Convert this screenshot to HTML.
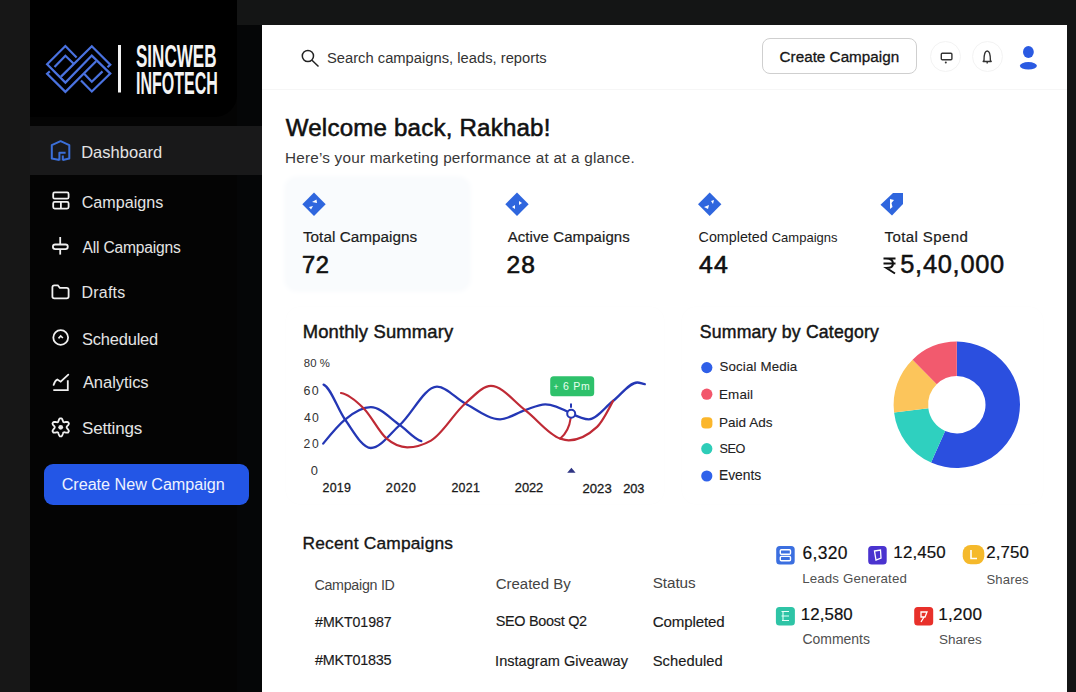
<!DOCTYPE html>
<html><head><meta charset="utf-8">
<style>
*{margin:0;padding:0;box-sizing:border-box}
html,body{width:1076px;height:692px;overflow:hidden;background:#141515;font-family:"Liberation Sans",sans-serif}
.a{position:absolute;white-space:nowrap;line-height:1;font-family:"Liberation Sans",sans-serif}
.b{position:absolute}
svg{position:absolute;left:0;top:0;overflow:visible}
</style></head><body>
<!-- backgrounds -->
<div class="b" style="left:0;top:0;width:30px;height:692px;background:#171717"></div>
<div class="b" style="left:30px;top:0;width:232px;height:692px;background:#040404"></div>
<div class="b" style="left:237px;top:0;width:839px;height:25px;background:#141515"></div>
<div class="b" style="left:237px;top:25px;width:25px;height:667px;background:#050607"></div>
<div class="b" style="left:30px;top:0;width:207px;height:117px;background:#000;border-radius:0 0 22px 0"></div>
<div class="b" style="left:30px;top:126px;width:232px;height:49px;background:#19191a"></div>
<div class="b" style="left:262px;top:25px;width:805px;height:667px;background:#fff"></div>
<div class="b" style="left:1067px;top:0;width:9px;height:692px;background:#141515"></div>

<!-- header -->
<div class="b" style="left:262px;top:89px;width:805px;height:1px;background:#f6f6f6"></div>
<div class="b" style="left:762px;top:38px;width:155px;height:36px;border:1px solid #cfcfcf;border-radius:8px"></div>
<div class="b" style="left:930px;top:40.5px;width:31px;height:31px;border:1px solid #f3f3f3;border-radius:50%"></div>
<div class="b" style="left:972px;top:40.5px;width:31px;height:31px;border:1px solid #f3f3f3;border-radius:50%"></div>

<!-- stat card 1 bg -->
<div class="b" style="left:287px;top:179px;width:181px;height:110px;background:#f9fbfd;border-radius:10px;box-shadow:0 0 5px 3px #f9fbfd"></div>

<!-- chart cards -->
<div class="b" style="left:285.5px;top:307px;width:378px;height:197px;border-radius:14px;box-shadow:0 0 1.5px rgba(0,0,0,0.025)"></div>
<div class="b" style="left:682px;top:307px;width:361px;height:197px;border-radius:14px;box-shadow:0 0 1.5px rgba(0,0,0,0.025)"></div>

<!-- sidebar button -->
<div class="b" style="left:44px;top:463.5px;width:205px;height:41.5px;background:#2356e6;border-radius:9px"></div>

<svg width="1076" height="692" viewBox="0 0 1076 692">
  <!-- logo -->
  <g fill="none" stroke="#4a72e0" stroke-width="2.2">
    <polyline points="76.6,57.4 65.4,46 47.1,64.2 65.4,82.6 91.8,55.6 110.3,73.6 91.8,91.5 81,80.4"/>
    <polyline points="54.5,67 65.4,55.8 73.7,63.8"/>
    <polyline points="61,76.6 91.8,46.2 110.3,64.6 107.5,67.2"/>
    <polyline points="49.8,71.4 47.1,73.8 65.4,91.9 96.1,61.3"/>
    <polyline points="83.9,73.5 91.8,81.8 102.5,71.4"/>
  </g>
  <rect x="118" y="45" width="3" height="47.5" fill="#f2f2f2"/>

  <!-- nav icons -->
  <g fill="none" stroke="#3b6fd9" stroke-width="2" stroke-linejoin="round">
    <path d="M59.4,160 L51.8,158.5 V145.2 L60.6,141.2 L69.3,145.2 V158.5 L62.8,160 M59.4,160.5 V152.8 H65.6 M62.8,160.5 V155.5"/>
  </g>
  <g fill="none" stroke="#f0f0f0" stroke-width="1.8">
    <rect x="53.2" y="192.4" width="15.4" height="6.3" rx="1.5"/>
    <rect x="53.2" y="201.9" width="15.4" height="6.7" rx="1.5"/>
    <line x1="60.9" y1="201.9" x2="60.9" y2="208.6"/>
    <line x1="60.2" y1="237" x2="60.2" y2="244.5"/>
    <line x1="60.2" y1="249.2" x2="60.2" y2="254.6"/>
    <rect x="52.9" y="244.5" width="14.9" height="4.7" rx="2.35"/>
    <path d="M52.4,296.5 V287.3 Q52.4,285.3 54.4,285.3 H57.8 L59.8,287.8 H66.6 Q68.6,287.8 68.6,289.8 V296.5 Q68.6,298.3 66.6,298.3 H54.4 Q52.4,298.3 52.4,296.5 Z"/>
    <circle cx="60.7" cy="337.5" r="7.4"/>
    <path d="M58.5,338.4 L60.7,335.9 L62.9,338" stroke-width="1.6"/>
    <path d="M53.3,390.1 H67.8 V380.3"/>
    <path d="M53.6,384.9 Q55,380.5 57.3,379.5 L60.7,381.7 L68.3,374.6" stroke-linecap="round"/>
    <path d="M60.7,418.3 L61.5,418.3 L62.2,419.1 L62.6,420.1 L63.0,421.1 L63.2,421.9 L63.7,422.1 L64.1,422.4 L65.0,422.2 L66.0,422.0 L67.1,421.9 L68.1,422.1 L68.5,422.8 L68.9,423.5 L68.6,424.4 L67.9,425.4 L67.2,426.1 L66.7,426.8 L66.7,427.3 L66.7,427.8 L67.2,428.5 L67.9,429.2 L68.6,430.2 L68.9,431.1 L68.5,431.8 L68.1,432.5 L67.1,432.7 L66.0,432.6 L65.0,432.4 L64.1,432.2 L63.7,432.5 L63.2,432.7 L63.0,433.5 L62.6,434.5 L62.2,435.5 L61.5,436.3 L60.7,436.3 L59.9,436.3 L59.2,435.5 L58.8,434.5 L58.4,433.5 L58.2,432.7 L57.7,432.5 L57.3,432.2 L56.4,432.4 L55.4,432.6 L54.3,432.7 L53.3,432.5 L52.9,431.8 L52.5,431.1 L52.8,430.2 L53.5,429.2 L54.2,428.5 L54.7,427.8 L54.7,427.3 L54.7,426.8 L54.2,426.1 L53.5,425.4 L52.8,424.4 L52.5,423.5 L52.9,422.8 L53.3,422.1 L54.3,421.9 L55.4,422.0 L56.4,422.2 L57.3,422.4 L57.7,422.1 L58.2,421.9 L58.4,421.1 L58.8,420.1 L59.2,419.1 L59.9,418.3 Z" stroke-linejoin="round"/>
  </g>
  <circle cx="60.7" cy="427.3" r="2.4" fill="#e8e8e8"/>

  <!-- header icons -->
  <g fill="none" stroke="#222" stroke-width="1.5">
    <circle cx="307.9" cy="56" r="5.6"/>
    <line x1="312" y1="60.2" x2="318.5" y2="66.5"/>
  </g>
  <g fill="none" stroke="#333" stroke-width="1.4">
    <rect x="941.3" y="53.2" width="10.6" height="6.6" rx="1"/>
    <path d="M984,60.5 Q984,51 987.2,51 Q990.4,51 990.4,60.5 L991.2,61.5 H983.2 Z" stroke-linejoin="round"/>
    <line x1="987.2" y1="61.5" x2="987.2" y2="63.5"/>
  </g>
  <circle cx="945.8" cy="62.6" r="1" fill="#333"/>
  <ellipse cx="1028.4" cy="52" rx="5.4" ry="6.1" fill="#2a5ae2"/>
  <ellipse cx="1028.4" cy="65.8" rx="8.5" ry="3.7" fill="#2a5ae2"/>

  <!-- stat icons -->
  <g fill="#2f66de">
    <rect x="305.8" y="196" width="16.5" height="16.5" transform="rotate(45 314 204.2)"/>
    <rect x="508.8" y="196" width="16.5" height="16.5" transform="rotate(45 517 204.2)"/>
    <rect x="701.5" y="196" width="16.5" height="16.5" transform="rotate(45 709.7 204.2)"/>
    <path d="M880.5,204.7 L893,193 L903,193 L903,204 L892,215.5 Z"/>
  </g>
  <g fill="#fff">
    <path d="M312,202 L316.5,199.5 L317,203 Z"/><path d="M309,207 L313,206 L311,209.5 Z"/>
    <path d="M519,201 L522,203 L519,205 Z"/><path d="M512,207 L515,205 L515,209 Z"/>
    <path d="M711,201 L714,200 L713,204 Z"/><path d="M704,207 L709,205 L708,209 Z"/>
    <path d="M890,199 L894,200 L891.5,203 L892.5,207 L890,209 Z"/>
  </g>
  <!-- rupee -->
  <g fill="none" stroke="#111" stroke-width="2">
    <path d="M883.5,258.5 H895.5 M883.5,263.5 H895.5 M886,258.5 Q893,258.5 893,263.5 Q893,268 886.5,268 L895,273.5"/>
  </g>

  <!-- chart -->
  <g stroke-linecap="round" fill="none">
  <path d="M323.6,384.6 C330.6,387.4 337.7,409.2 344.7,419.0 C353.4,431.2 362.1,448.0 370.8,448.0 C380.5,448.0 390.1,433.7 399.8,425.0 C412.2,413.9 424.6,386.7 437.0,386.7 C446.4,386.7 455.8,398.5 465.2,403.5 C476.8,409.7 488.5,419.3 500.1,419.3 C508.5,419.3 516.8,412.8 525.2,410.1 C531.9,407.9 538.6,404.3 545.3,404.3 C553.9,404.3 562.6,408.9 571.2,413.5" stroke="#2437b5" stroke-width="2.3" fill="none"/><path d="M571.2,413.5 C577.1,416.4 582.9,419.3 588.8,419.3 C596.9,419.3 604.9,407.1 613.0,401.0 C621.1,394.9 629.2,382.5 637.3,382.5 C639.8,382.5 642.3,383.8 644.8,384.2" stroke="#2437b5" stroke-width="2.3" fill="none"/><path d="M323.2,443.6 C330.4,434.7 337.5,425.7 344.7,419.8 C353.4,412.6 362.1,407.2 370.8,407.2 C380.5,407.2 390.1,418.3 399.8,425.0 C407.0,430.0 414.1,439.3 421.3,441.1" stroke="#2437b5" stroke-width="2.3" fill="none"/><path d="M341.0,393.0 C348.7,394.1 356.3,401.0 364.0,408.7 C371.5,416.2 378.9,432.0 386.4,438.4 C393.3,444.3 400.3,447.3 407.2,447.3 C415.1,447.3 423.1,445.1 431.0,440.6 C442.4,434.2 453.8,413.3 465.2,403.5 C473.8,396.2 482.3,385.9 490.9,385.9 C502.3,385.9 513.8,401.4 525.2,410.1 C536.9,419.0 548.6,434.9 560.3,438.6 C563.1,439.5 565.9,440.3 568.7,440.3 C578.2,440.3 587.6,435.8 597.1,426.9 C602.4,421.9 607.7,411.4 613.0,401.0" stroke="#bf2a35" stroke-width="2.2" fill="none"/><path d="M560.3,438.6 Q569,431 570.6,418.5" stroke="#bf2a35" stroke-width="2" fill="none"/>
  </g>
  <line x1="571" y1="403.5" x2="571" y2="407.8" stroke="#2437b5" stroke-width="2"/>
  <circle cx="571.2" cy="413.7" r="4" fill="#fff" stroke="#2437b5" stroke-width="2"/>
  <rect x="550.2" y="376.2" width="44" height="20" rx="3.5" fill="#2ec16b"/>
    <path d="M571.4,467.8 L575.6,472.8 L567.2,472.8 Z" fill="#2f3583"/>

  <!-- donut -->
  <path d="M956.80,341.60 A63.2,63.2 0 1 1 931.09,462.54 L945.13,431.02 A28.7,28.7 0 1 0 956.80,376.10 Z" fill="#2b4fdf"/><path d="M931.09,462.54 A63.2,63.2 0 0 1 894.07,412.50 L928.31,408.30 A28.7,28.7 0 0 0 945.13,431.02 Z" fill="#2fd0bf"/><path d="M894.07,412.50 A63.2,63.2 0 0 1 912.58,359.65 L936.72,384.29 A28.7,28.7 0 0 0 928.31,408.30 Z" fill="#fcc55b"/><path d="M912.58,359.65 A63.2,63.2 0 0 1 956.80,341.60 L956.80,376.10 A28.7,28.7 0 0 0 936.72,384.29 Z" fill="#f25a6e"/>
  <!-- legend dots -->
  <circle cx="706.8" cy="367.6" r="5.6" fill="#2f5fe8"/>
  <circle cx="706.8" cy="394.2" r="5.6" fill="#f2566b"/>
  <rect x="701.2" y="417.2" width="11.2" height="11.4" rx="4" fill="#fbb62b"/>
  <circle cx="706.8" cy="448.7" r="5.6" fill="#2ecdb8"/>
  <circle cx="706.8" cy="476" r="5.6" fill="#2f62ea"/>

  <!-- small stat icons -->
  <rect x="776.2" y="546" width="18.5" height="18.6" rx="3.5" fill="#3b6fe0"/>
  <g fill="none" stroke="#fff" stroke-width="1.4">
    <rect x="780.3" y="549.8" width="10.2" height="4.4" rx="1"/>
    <rect x="780.3" y="556.4" width="10.2" height="4.4" rx="1"/>
  </g>
  <rect x="868.2" y="546" width="18.5" height="18.6" rx="3.5" fill="#4a33cf"/>
  <path d="M874.5,551 L880.5,550 L881,558 L876,560 Z" fill="none" stroke="#fff" stroke-width="1.3"/>
  <rect x="962.7" y="545" width="21.6" height="19.3" rx="8" fill="#f5b92b"/>
  <path d="M971,550 V558.5 H977" fill="none" stroke="#fff" stroke-width="1.6"/>
  <rect x="775.9" y="607" width="19" height="18.6" rx="3.5" fill="#2ec4a6"/>
  <path d="M781.5,611.5 H789 M781.5,616 H789 M782,620.5 H789 M783,611 V621" fill="none" stroke="#e6fff8" stroke-width="1.1"/>
  <rect x="914.2" y="607" width="19" height="18.6" rx="3.5" fill="#e8302a"/>
  <path d="M921,612 H927 L925,617 H921 Z M924,617 L921,622" fill="none" stroke="#fff" stroke-width="1.3"/>
</svg>

<div class="a" style="left:81.18px;top:143.69px;font-size:16.48px;letter-spacing:0.046px;color:#e4e4e4;">Dashboard</div>
<div class="a" style="left:81.69px;top:193.80px;font-size:16.11px;letter-spacing:0.023px;color:#e4e4e4;">Campaigns</div>
<div class="a" style="left:82.50px;top:239.74px;font-size:15.60px;letter-spacing:-0.193px;color:#e4e4e4;">All Campaigns</div>
<div class="a" style="left:81.62px;top:285.05px;font-size:15.94px;letter-spacing:0.220px;color:#e4e4e4;">Drafts</div>
<div class="a" style="left:82.08px;top:331.01px;font-size:16.45px;letter-spacing:-0.199px;color:#e4e4e4;">Scheduled</div>
<div class="a" style="left:82.90px;top:374.92px;font-size:16.56px;letter-spacing:-0.061px;color:#e4e4e4;">Analytics</div>
<div class="a" style="left:82.05px;top:419.95px;font-size:17.00px;letter-spacing:-0.175px;color:#e4e4e4;">Settings</div>
<div class="a" style="left:61.69px;top:475.65px;font-size:16.18px;letter-spacing:-0.029px;color:#eef2ff;">Create New Campaign</div>
<div class="a" style="left:326.96px;top:50.69px;font-size:14.72px;letter-spacing:0.013px;color:#333333;">Search campaigns, leads, reports</div>
<div class="a" style="left:779.54px;top:48.64px;font-size:15.25px;letter-spacing:0.010px;color:#161616;-webkit-text-stroke:0.3px currentColor;">Create Campaign</div>
<div class="a" style="left:285.76px;top:116.31px;font-size:24.11px;letter-spacing:0.189px;color:#111111;-webkit-text-stroke:0.55px currentColor;">Welcome back, Rakhab!</div>
<div class="a" style="left:284.98px;top:149.79px;font-size:15.30px;letter-spacing:0.208px;color:#383838;">Here’s your marketing performance at at a glance.</div>
<div class="a" style="left:302.89px;top:228.91px;font-size:15.28px;letter-spacing:0.047px;color:#1c1c1c;-webkit-text-stroke:0.2px currentColor;">Total Campaigns</div>
<div class="a" style="left:507.70px;top:228.95px;font-size:15.00px;letter-spacing:0.078px;color:#1c1c1c;-webkit-text-stroke:0.2px currentColor;">Active Campaigns</div>
<div class="a" style="left:884.60px;top:228.93px;font-size:15.02px;letter-spacing:0.385px;color:#1c1c1c;-webkit-text-stroke:0.2px currentColor;">Total Spend</div>
<div class="a" style="left:302.02px;top:253.88px;font-size:23.67px;letter-spacing:0.529px;color:#111111;-webkit-text-stroke:0.65px currentColor;">72</div>
<div class="a" style="left:506.47px;top:253.46px;font-size:24.51px;letter-spacing:1.241px;color:#111111;-webkit-text-stroke:0.65px currentColor;">28</div>
<div class="a" style="left:699.00px;top:253.21px;font-size:24.81px;letter-spacing:1.248px;color:#111111;-webkit-text-stroke:0.65px currentColor;">44</div>
<div class="a" style="left:900.28px;top:252.16px;font-size:25.45px;letter-spacing:0.711px;color:#111111;-webkit-text-stroke:0.5px currentColor;">5,40,000</div>
<div class="a" style="left:302.73px;top:323.34px;font-size:18.42px;letter-spacing:0.149px;color:#151515;-webkit-text-stroke:0.45px currentColor;">Monthly Summary</div>
<div class="a" style="left:303.75px;top:358.13px;font-size:11.37px;letter-spacing:0.064px;color:#333333;">80 %</div>
<div class="a" style="left:303.58px;top:384.62px;font-size:12.45px;letter-spacing:1.323px;color:#333333;">60</div>
<div class="a" style="left:303.95px;top:411.88px;font-size:12.25px;letter-spacing:1.156px;color:#333333;">40</div>
<div class="a" style="left:303.59px;top:438.36px;font-size:12.17px;letter-spacing:1.611px;color:#333333;">20</div>
<div class="a" style="left:310.68px;top:465.22px;font-size:12.91px;letter-spacing:0.831px;color:#333333;">0</div>
<div class="a" style="left:322.48px;top:482.45px;font-size:12.42px;letter-spacing:0.293px;color:#1a1a1a;-webkit-text-stroke:0.3px currentColor;">2019</div>
<div class="a" style="left:385.66px;top:482.09px;font-size:12.84px;letter-spacing:0.593px;color:#1a1a1a;-webkit-text-stroke:0.3px currentColor;">2020</div>
<div class="a" style="left:451.38px;top:482.46px;font-size:12.40px;letter-spacing:0.280px;color:#1a1a1a;-webkit-text-stroke:0.3px currentColor;">2021</div>
<div class="a" style="left:514.86px;top:482.48px;font-size:12.85px;letter-spacing:-0.105px;color:#1a1a1a;-webkit-text-stroke:0.3px currentColor;">2022</div>
<div class="a" style="left:582.45px;top:482.28px;font-size:13.08px;letter-spacing:0.057px;color:#1a1a1a;-webkit-text-stroke:0.3px currentColor;">2023</div>
<div class="a" style="left:623.36px;top:482.51px;font-size:12.81px;letter-spacing:-0.145px;color:#1a1a1a;-webkit-text-stroke:0.3px currentColor;">203</div>
<div class="a" style="left:699.82px;top:323.99px;font-size:17.66px;letter-spacing:0.190px;color:#151515;-webkit-text-stroke:0.45px currentColor;">Summary by Category</div>
<div class="a" style="left:719.44px;top:360.40px;font-size:13.30px;letter-spacing:0.154px;color:#222222;-webkit-text-stroke:0.1px currentColor;">Social Media</div>
<div class="a" style="left:719.03px;top:387.51px;font-size:13.41px;letter-spacing:0.133px;color:#222222;-webkit-text-stroke:0.1px currentColor;">Email</div>
<div class="a" style="left:719.02px;top:415.72px;font-size:13.50px;letter-spacing:0.018px;color:#222222;-webkit-text-stroke:0.1px currentColor;">Paid Ads</div>
<div class="a" style="left:719.47px;top:442.84px;font-size:12.65px;letter-spacing:-0.454px;color:#222222;-webkit-text-stroke:0.1px currentColor;">SEO</div>
<div class="a" style="left:718.99px;top:469.05px;font-size:13.83px;letter-spacing:-0.022px;color:#222222;-webkit-text-stroke:0.1px currentColor;">Events</div>
<div class="a" style="left:302.51px;top:535.33px;font-size:17.38px;letter-spacing:0.192px;color:#151515;-webkit-text-stroke:0.35px currentColor;">Recent Campaigns</div>
<div class="a" style="left:314.39px;top:577.88px;font-size:14.25px;letter-spacing:-0.267px;color:#444444;">Campaign ID</div>
<div class="a" style="left:495.65px;top:576.26px;font-size:14.99px;letter-spacing:0.015px;color:#444444;">Created By</div>
<div class="a" style="left:652.74px;top:575.32px;font-size:15.27px;letter-spacing:-0.070px;color:#444444;">Status</div>
<div class="a" style="left:315.10px;top:614.86px;font-size:14.16px;letter-spacing:-0.078px;color:#1a1a1a;-webkit-text-stroke:0.15px currentColor;">#MKT01987</div>
<div class="a" style="left:495.68px;top:614.24px;font-size:14.43px;letter-spacing:-0.287px;color:#1a1a1a;-webkit-text-stroke:0.15px currentColor;">SEO Boost Q2</div>
<div class="a" style="left:652.74px;top:613.66px;font-size:15.10px;letter-spacing:-0.130px;color:#1a1a1a;-webkit-text-stroke:0.15px currentColor;">Completed</div>
<div class="a" style="left:315.10px;top:653.36px;font-size:14.40px;letter-spacing:-0.257px;color:#1a1a1a;-webkit-text-stroke:0.15px currentColor;">#MKT01835</div>
<div class="a" style="left:495.09px;top:654.41px;font-size:14.57px;letter-spacing:0.012px;color:#1a1a1a;-webkit-text-stroke:0.15px currentColor;">Instagram Giveaway</div>
<div class="a" style="left:652.76px;top:654.28px;font-size:14.73px;letter-spacing:0.053px;color:#1a1a1a;-webkit-text-stroke:0.15px currentColor;">Scheduled</div>
<div class="a" style="left:802.43px;top:544.56px;font-size:17.45px;letter-spacing:0.353px;color:#111111;-webkit-text-stroke:0.2px currentColor;">6,320</div>
<div class="a" style="left:893.35px;top:545.03px;font-size:16.91px;letter-spacing:0.132px;color:#111111;-webkit-text-stroke:0.2px currentColor;">12,450</div>
<div class="a" style="left:986.26px;top:545.07px;font-size:16.85px;letter-spacing:0.113px;color:#111111;-webkit-text-stroke:0.2px currentColor;">2,750</div>
<div class="a" style="left:802.24px;top:572.49px;font-size:13.30px;letter-spacing:0.130px;color:#505050;">Leads Generated</div>
<div class="a" style="left:986.45px;top:572.69px;font-size:13.07px;letter-spacing:0.158px;color:#505050;">Shares</div>
<div class="a" style="left:800.75px;top:606.50px;font-size:16.83px;letter-spacing:0.100px;color:#111111;-webkit-text-stroke:0.2px currentColor;">12,580</div>
<div class="a" style="left:938.33px;top:606.24px;font-size:17.13px;letter-spacing:0.223px;color:#111111;-webkit-text-stroke:0.2px currentColor;">1,200</div>
<div class="a" style="left:802.50px;top:632.22px;font-size:13.98px;letter-spacing:-0.007px;color:#505050;">Comments</div>
<div class="a" style="left:939.03px;top:632.63px;font-size:13.49px;letter-spacing:0.017px;color:#505050;">Shares</div>
<div class="a" style="left:136px;top:41px;font-size:31px;font-weight:bold;color:#f4f4f4;transform:scaleX(0.55);transform-origin:0 0">SINCWEB</div>
<div class="a" style="left:136px;top:68px;font-size:31px;font-weight:bold;color:#f4f4f4;transform:scaleX(0.517);transform-origin:0 0">INFOTECH</div>
<div class="a" style="left:553.5px;top:381.2px;font-size:10.5px;letter-spacing:0.75px;color:#e6ffee"><span style="font-size:8.5px">+</span> 6 Pm</div>
<div class="a" style="left:698.6px;top:229.5px;font-size:14.3px;color:#1c1c1c">Completed <span style="font-size:13px">Campaigns</span></div>
</body></html>
